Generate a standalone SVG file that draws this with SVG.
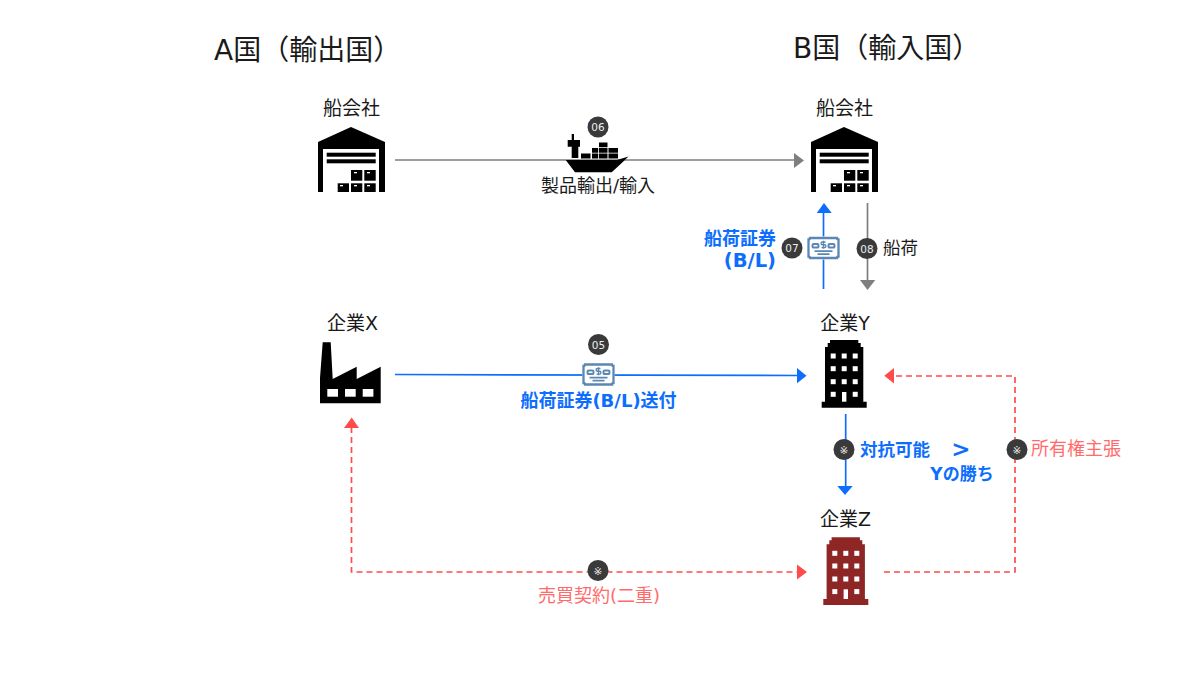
<svg xmlns="http://www.w3.org/2000/svg" width="1200" height="674" viewBox="0 0 1200 674">
<style>
text{font-family:"DejaVu Sans","Noto Sans CJK JP",sans-serif;fill:#1a1a1a}
.h{font-size:28px}
.n{font-size:19px}
.b{font-size:18px;font-weight:700;fill:#0d6efd}
.r{font-size:18px;fill:#ff6b6b}
.g{font-size:18px}
.m{text-anchor:middle}
.e{text-anchor:end}
.bd{font-size:10.500px;fill:#eee;text-anchor:middle}
.bc{fill:#3a3a3a}
.l{fill:none;stroke-width:1.7}
.gl{stroke:#7f7f7f}
.bl{stroke:#0d6efd}
.rl{stroke:#ff4b4b;stroke-dasharray:6 4}
.ga{fill:#7f7f7f}
.ba{fill:#0d6efd}
.ra{fill:#ff4b4b}
.cs{fill:none;stroke:#5b87b5}
</style>
<defs>
<symbol id="wh" overflow="visible">
<path d="M0 15L33 0L67 15V65H0Z" fill="#000"/>
<rect x="5" y="22" width="56" height="43" fill="#fff"/>
<rect x="8.700" y="25.700" width="49" height="4"/>
<rect x="8.700" y="32.300" width="49" height="4"/>
<g>
<rect x="33" y="43" width="11.300" height="10.700"/><rect x="46.300" y="43" width="11.400" height="10.700"/>
<rect x="19.700" y="56.300" width="11.300" height="8.700"/><rect x="33" y="56.300" width="11.300" height="8.700"/><rect x="46.300" y="56.300" width="11.400" height="8.700"/>
</g>
<g fill="#fff">
<rect x="36" y="45" width="3" height="1.300"/><rect x="49" y="45" width="3" height="1.300"/>
<rect x="22" y="58" width="3" height="1.300"/><rect x="36" y="58" width="3" height="1.300"/><rect x="49" y="58" width="3" height="1.300"/>
</g>
</symbol>
<symbol id="bld" overflow="visible">
<path d="M8.300 0H36.600V3H39V7H41.600V61.700H45V67.700H0V61.700H3.300V7H6V3H8.300Z" fill="currentColor"/>
<g fill="#fff">
<rect x="9" y="13.500" width="5" height="5"/><rect x="20" y="13.500" width="5" height="5"/><rect x="31" y="13.500" width="5" height="5"/>
<rect x="9" y="26.200" width="5" height="5"/><rect x="20" y="26.200" width="5" height="5"/><rect x="31" y="26.200" width="5" height="5"/>
<rect x="9" y="39.200" width="5" height="5"/><rect x="20" y="39.200" width="5" height="5"/><rect x="31" y="39.200" width="5" height="5"/>
<rect x="9" y="51.800" width="5" height="5"/><rect x="20.300" y="52" width="4.400" height="9.700"/><rect x="31" y="51.800" width="5" height="5"/>
</g>
</symbol>
<symbol id="cert" overflow="visible">
<rect x="-16" y="-11.500" width="32" height="23" fill="#fff"/>
<path class="cs" stroke-width="2.300" d="M-13.500 -10H13.500A1.500 1.500 0 0 0 15 -8.500V8.500A1.500 1.500 0 0 0 13.500 10H-13.500A1.500 1.500 0 0 0 -15 8.500V-8.500A1.500 1.500 0 0 0 -13.500 -10Z"/>
<rect class="cs" x="-11" y="-4" width="6" height="3.600" rx="1.200" stroke-width="2"/>
<rect class="cs" x="5" y="-4" width="6" height="3.600" rx="1.200" stroke-width="2"/>
<path class="cs" d="M2 -6H-1A1.300 1.300 0 0 0 -1 -3.200H1A1.300 1.300 0 0 1 1 -0.400H-2M0 -7.200V0.800" stroke-width="1.400"/>
<path class="cs" d="M-9 3.200H9M-6 6.200H6" stroke-width="1.800"/>
</symbol>
</defs>

<text class="h" x="214" y="60">A国（輸出国）</text>
<text class="h" x="793" y="58">B国（輸入国）</text>

<g id="connectors">
<path class="l gl" d="M395 160H796"/><path class="ga" d="M794 153L804 160.500L794 168Z"/>
<path class="l bl" d="M823.500 289V212"/><path class="ba" d="M816.700 213L824 203L831.700 213Z"/>
<path class="l gl" d="M867.500 203V281"/><path class="ga" d="M860 280H875.300L867.500 290Z"/>
<path class="l bl" d="M395 374.500L798 375.500"/><path class="ba" d="M797 368L806.500 375.700L797 383.200Z"/>
<path class="l bl" d="M845.700 414V487"/><path class="ba" d="M837.300 486H852.700L845 495Z"/>
<path class="l rl" d="M351.500 427V572H798"/><path class="ra" d="M344 428L351.700 417.500L359 428Z"/><path class="ra" d="M797 564.500L807 572L797 579.500Z"/>
<path class="l rl" d="M884 572H1015V376H893"/><path class="ra" d="M894 368L884.300 375.700L894 383.500Z"/>
</g>

<g id="node-ship-a"><text class="n m" x="351.500" y="115">船会社</text><use href="#wh" x="318" y="127"/></g>
<g id="node-ship-b"><text class="n m" x="844.500" y="115">船会社</text><use href="#wh" x="811" y="127"/></g>
<g id="node-x"><text class="n m" x="352.500" y="330">企業X</text>
<path d="M322.700 342.300H330.700L332.700 379L356.700 366.700V379L380.700 366.700V403.300H320V378Z"/>
<g fill="#fff"><rect x="327.300" y="389" width="10.700" height="7.700"/><rect x="345" y="389" width="10.700" height="7.700"/><rect x="362.700" y="389" width="10.700" height="7.700"/></g></g>
<g id="node-y"><text class="n m" x="845" y="330">企業Y</text><use href="#bld" x="821.700" y="340" color="#000"/></g>
<g id="node-z"><text class="n m" x="845.500" y="526">企業Z</text><use href="#bld" x="823.300" y="537.300" color="#8e2626"/></g>

<g id="ship">
<path d="M565.700 160H617L628.500 156.500Q624 161 611.700 172.300H575Z"/>
<path d="M571.700 134H574V140H580V146.700H578.300V158H571.700V146.700H567.700V140H571.700Z"/>
<path d="M599 142.500H607.500V147.300H599ZM592 148H598.200V152.800H592ZM599 148H607.500V152.800H599ZM608.500 148H618V152.800H608.500ZM581 153.500H590.500V158.500H581ZM592 153.500H598.200V158.500H592ZM599 153.500H607.500V158.500H599ZM608.500 153.500H618V158.500H608.500Z"/>
</g>
<text class="g m" x="598" y="192">製品輸出/輸入</text>

<g id="cert-05"><use href="#cert" x="598.500" y="374.500"/></g>
<g id="cert-07"><use href="#cert" x="823.500" y="248"/></g>

<g id="badges">
<circle class="bc" cx="598" cy="127" r="10.500"/><text class="bd" x="598" y="131">06</text>
<circle class="bc" cx="598.500" cy="344.500" r="10.500"/><text class="bd" x="598.500" y="348.500">05</text>
<circle class="bc" cx="792" cy="248" r="10.500"/><text class="bd" x="792" y="252">07</text>
<circle class="bc" cx="867" cy="248.500" r="10.500"/><text class="bd" x="867" y="252.500">08</text>
<circle class="bc" cx="844" cy="449.500" r="10.500"/><text class="bd" x="844" y="453.500">※</text>
<circle class="bc" cx="1017" cy="449.500" r="10.500"/><text class="bd" x="1017" y="453.500">※</text>
<circle class="bc" cx="598" cy="570.500" r="10.500"/><text class="bd" x="598" y="574.500">※</text>
</g>

<text class="b e" x="776" y="245">船荷証券</text>
<text class="b e" x="776" y="267" style="font-size:19.500px">(B/L)</text>
<text class="n" x="883" y="254" style="font-size:17.500px">船荷</text>
<text class="b m" x="598.500" y="407">船荷証券(B/L)送付</text>
<text class="b" x="860" y="456" style="font-size:17.500px">対抗可能</text>
<text x="961" y="457" class="m" style="font-size:23px;font-weight:700;fill:#0d6efd">&gt;</text>
<text class="b m" x="962" y="480" style="font-size:17px">Yの勝ち</text>
<text class="r" x="1031" y="455">所有権主張</text>
<text class="r m" x="599" y="602">売買契約(二重)</text>
</svg>
